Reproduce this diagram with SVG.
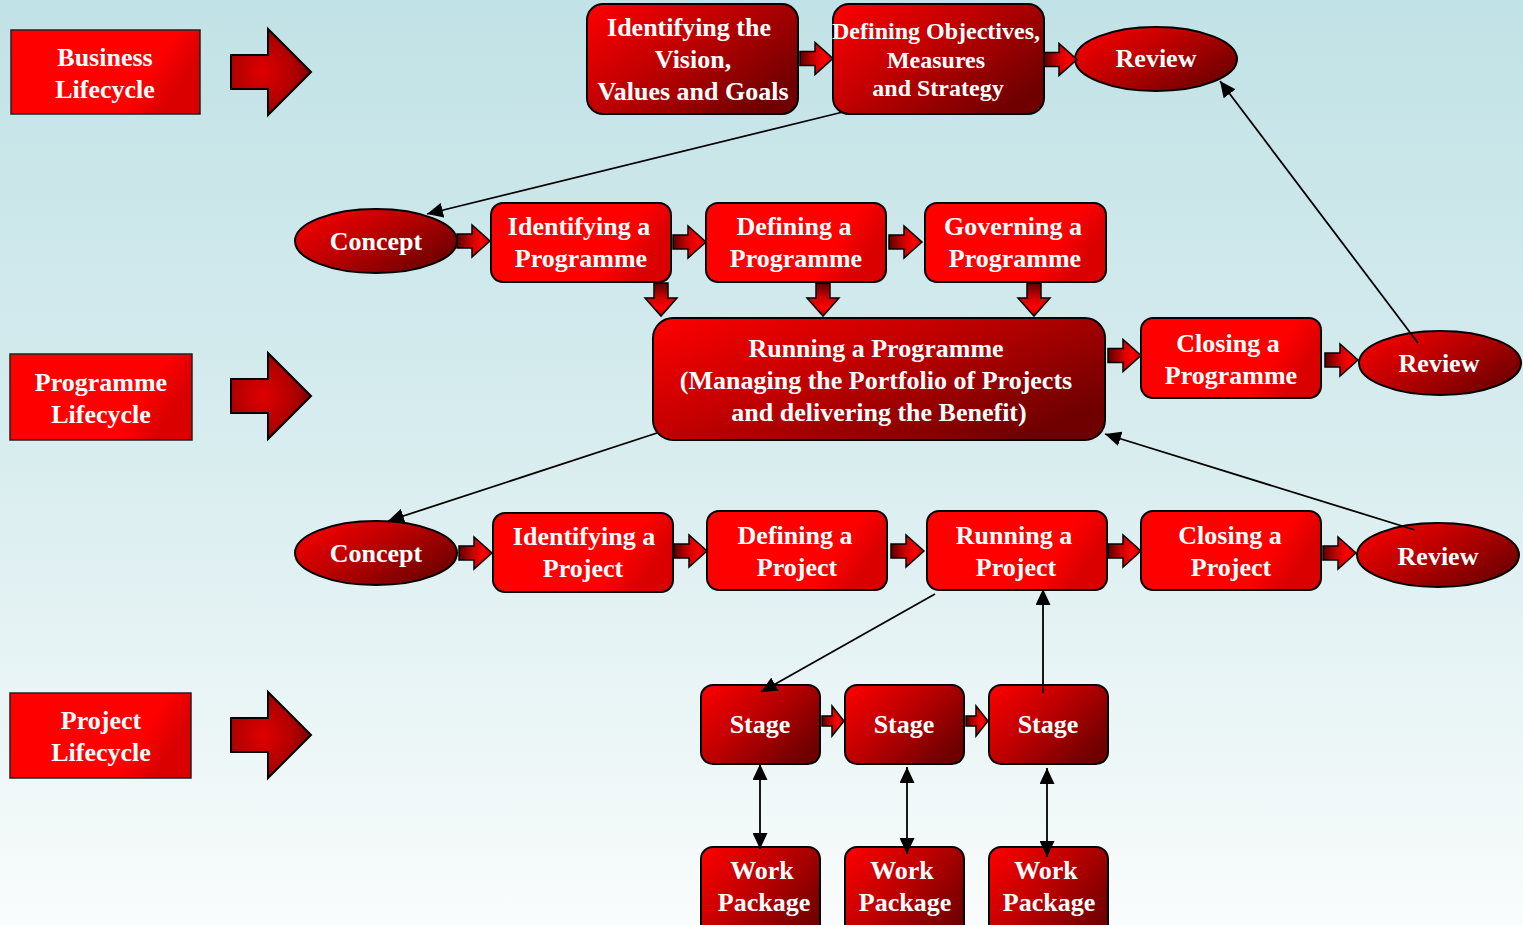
<svg xmlns="http://www.w3.org/2000/svg" xmlns:xlink="http://www.w3.org/1999/xlink" width="1523" height="925" viewBox="0 0 1523 925">
<defs>
  <linearGradient id="bg" x1="0" y1="0" x2="0" y2="1">
    <stop offset="0" stop-color="#C1E2E6"/>
    <stop offset="0.5" stop-color="#D9EDEF"/>
    <stop offset="1" stop-color="#F9FCFC"/>
  </linearGradient>
  <linearGradient id="gDark" x1="0" y1="0" x2="1" y2="0.7">
    <stop offset="0" stop-color="#FF0000"/>
    <stop offset="0.45" stop-color="#C40000"/>
    <stop offset="1" stop-color="#700000"/>
  </linearGradient>
  <linearGradient id="gRed" x1="0" y1="0" x2="1" y2="0.3">
    <stop offset="0" stop-color="#FF0000"/>
    <stop offset="0.8" stop-color="#FF0000"/>
    <stop offset="1" stop-color="#DA0000"/>
  </linearGradient>
  <radialGradient id="gBig" cx="0.4" cy="0.5" r="0.7">
    <stop offset="0" stop-color="#E00000"/>
    <stop offset="0.55" stop-color="#B00000"/>
    <stop offset="1" stop-color="#650000"/>
  </radialGradient>
  <linearGradient id="gSmall" x1="0" y1="0" x2="1" y2="0">
    <stop offset="0" stop-color="#5A0000"/>
    <stop offset="0.45" stop-color="#D00000"/>
    <stop offset="0.75" stop-color="#FF0000"/>
    <stop offset="1" stop-color="#C00000"/>
  </linearGradient>
  <path id="sa" d="M0,-7 H15 V-16 L33,0 L15,16 V7 H0 Z"/>
  <path id="sa2" d="M0,-5 H10 V-15 L22,0 L10,15 V5 H0 Z"/>
  <path id="ba" d="M0,26 H37 V0 L80,43 L37,86 V60 H0 Z"/>
  <marker id="ah" markerUnits="userSpaceOnUse" markerWidth="16" markerHeight="15" refX="16" refY="7.5" orient="auto-start-reverse" viewBox="0 0 16 15">
    <path d="M0,0 L16,7.5 L0,15 Z" fill="#000"/>
  </marker>
  <style>
    text { font-family: "Liberation Serif", "Times New Roman", serif; font-weight: bold; font-size: 26px; fill: #FFFFFF; text-anchor: middle; }
    .sm { font-size: 24px; }
    .dark { fill: url(#gDark); stroke: #000; stroke-width: 2; }
    .red { fill: url(#gRed); stroke: #000; stroke-width: 2; }
    .life { fill: url(#gRed); stroke: #222; stroke-width: 1.5; }
    .big { fill: url(#gBig); stroke: #000; stroke-width: 2; }
    .small { fill: url(#gSmall); stroke: #000; stroke-width: 1.5; }
    .conn { stroke: #000; stroke-width: 1.8; fill: none; }
  </style>
</defs>
<rect x="0" y="0" width="1523" height="925" fill="url(#bg)"/>

<!-- Lifecycle labels and big arrows -->
<g id="business-lifecycle">
  <rect class="life" x="11" y="30" width="189" height="84"/>
  <text x="105" y="66">Business</text>
  <text x="105" y="98">Lifecycle</text>
</g>
<g id="business-arrow"><use xlink:href="#ba" class="big" transform="translate(231,29)"/></g>
<g id="programme-lifecycle">
  <rect class="life" x="10" y="354" width="182" height="86"/>
  <text x="101" y="391">Programme</text>
  <text x="101" y="423">Lifecycle</text>
</g>
<g id="programme-arrow"><use xlink:href="#ba" class="big" transform="translate(231,353)"/></g>
<g id="project-lifecycle">
  <rect class="life" x="10" y="693" width="181" height="85"/>
  <text x="101" y="729">Project</text>
  <text x="101" y="761">Lifecycle</text>
</g>
<g id="project-arrow"><use xlink:href="#ba" class="big" transform="translate(231,692)"/></g>

<!-- Business row -->
<g id="vision">
  <rect class="dark" x="587" y="4" width="211" height="110" rx="16"/>
  <text x="689" y="36">Identifying the</text>
  <text x="693" y="68">Vision,</text>
  <text x="693" y="100">Values and Goals</text>
</g>
<g id="objectives">
  <rect class="dark" x="833" y="4" width="211" height="110" rx="16"/>
  <text class="sm" x="936" y="39">Defining Objectives,</text>
  <text class="sm" x="936" y="68">Measures</text>
  <text class="sm" x="938" y="96">and Strategy</text>
</g>
<g id="review-business">
  <ellipse class="dark" cx="1156" cy="59" rx="81" ry="32"/>
  <text x="1156" y="67">Review</text>
</g>

<!-- Programme rows -->
<g id="concept-programme">
  <ellipse class="dark" cx="376" cy="241" rx="81" ry="32"/>
  <text x="376" y="250">Concept</text>
</g>
<g id="identifying-programme">
  <rect class="red" x="491" y="203" width="180" height="79" rx="12"/>
  <text x="579" y="235">Identifying a</text>
  <text x="581" y="267">Programme</text>
</g>
<g id="defining-programme">
  <rect class="red" x="706" y="203" width="180" height="79" rx="12"/>
  <text x="794" y="235">Defining a</text>
  <text x="796" y="267">Programme</text>
</g>
<g id="governing-programme">
  <rect class="red" x="925" y="203" width="181" height="79" rx="12"/>
  <text x="1013" y="235">Governing a</text>
  <text x="1015" y="267">Programme</text>
</g>
<g id="running-programme">
  <rect class="dark" x="653" y="318" width="452" height="122" rx="20"/>
  <text x="876" y="357">Running a Programme</text>
  <text x="876" y="389">(Managing the Portfolio of Projects</text>
  <text x="879" y="421">and delivering the Benefit)</text>
</g>
<g id="closing-programme">
  <rect class="red" x="1141" y="318" width="180" height="80" rx="12"/>
  <text x="1228" y="352">Closing a</text>
  <text x="1231" y="384">Programme</text>
</g>
<g id="review-programme">
  <ellipse class="dark" cx="1440" cy="363" rx="81" ry="32"/>
  <text x="1439" y="372">Review</text>
</g>

<!-- Project row -->
<g id="concept-project">
  <ellipse class="dark" cx="376" cy="553" rx="81" ry="32"/>
  <text x="376" y="562">Concept</text>
</g>
<g id="identifying-project">
  <rect class="red" x="493" y="513" width="180" height="79" rx="12"/>
  <text x="584" y="545">Identifying a</text>
  <text x="583" y="577">Project</text>
</g>
<g id="defining-project">
  <rect class="red" x="707" y="511" width="180" height="79" rx="12"/>
  <text x="795" y="544">Defining a</text>
  <text x="797" y="576">Project</text>
</g>
<g id="running-project">
  <rect class="red" x="927" y="511" width="180" height="79" rx="12"/>
  <text x="1014" y="544">Running a</text>
  <text x="1016" y="576">Project</text>
</g>
<g id="closing-project">
  <rect class="red" x="1141" y="511" width="180" height="79" rx="12"/>
  <text x="1230" y="544">Closing a</text>
  <text x="1231" y="576">Project</text>
</g>
<g id="review-project">
  <ellipse class="dark" cx="1438" cy="555" rx="81" ry="32"/>
  <text x="1438" y="565">Review</text>
</g>

<!-- Stages and work packages -->
<g id="stage1">
  <rect class="dark" x="701" y="685" width="119" height="79" rx="12"/>
  <text x="760" y="733">Stage</text>
</g>
<g id="stage2">
  <rect class="dark" x="845" y="685" width="119" height="79" rx="12"/>
  <text x="904" y="733">Stage</text>
</g>
<g id="stage3">
  <rect class="dark" x="989" y="685" width="119" height="79" rx="12"/>
  <text x="1048" y="733">Stage</text>
</g>
<g id="wp1">
  <rect class="dark" x="701" y="847" width="119" height="100" rx="12"/>
  <text x="762" y="879">Work</text>
  <text x="764" y="911">Package</text>
</g>
<g id="wp2">
  <rect class="dark" x="845" y="847" width="119" height="100" rx="12"/>
  <text x="902" y="879">Work</text>
  <text x="905" y="911">Package</text>
</g>
<g id="wp3">
  <rect class="dark" x="989" y="847" width="119" height="100" rx="12"/>
  <text x="1046" y="879">Work</text>
  <text x="1049" y="911">Package</text>
</g>

<!-- Connectors -->
<g id="connectors">
  <use xlink:href="#sa" class="small" transform="translate(800,58.5)"/>
  <use xlink:href="#sa" class="small" transform="translate(1044,59.5)"/>
  <use xlink:href="#sa" class="small" transform="translate(457,241)"/>
  <use xlink:href="#sa" class="small" transform="translate(673,242)"/>
  <use xlink:href="#sa" class="small" transform="translate(889,242)"/>
  <use xlink:href="#sa" class="small" transform="translate(661,283) rotate(90)"/>
  <use xlink:href="#sa" class="small" transform="translate(823,283) rotate(90)"/>
  <use xlink:href="#sa" class="small" transform="translate(1034,283) rotate(90)"/>
  <use xlink:href="#sa" class="small" transform="translate(1108,355.5)"/>
  <use xlink:href="#sa" class="small" transform="translate(1325,360)"/>
  <use xlink:href="#sa" class="small" transform="translate(459,553)"/>
  <use xlink:href="#sa" class="small" transform="translate(674,551)"/>
  <use xlink:href="#sa" class="small" transform="translate(891,551)"/>
  <use xlink:href="#sa" class="small" transform="translate(1108,551)"/>
  <use xlink:href="#sa" class="small" transform="translate(1323,553)"/>
  <use xlink:href="#sa2" class="small" transform="translate(822,721)"/>
  <use xlink:href="#sa2" class="small" transform="translate(966,721)"/>

  <line class="conn" x1="843" y1="112" x2="427" y2="214" marker-end="url(#ah)"/>
  <line class="conn" x1="1418" y1="343" x2="1220" y2="81" marker-end="url(#ah)"/>
  <line class="conn" x1="657" y1="433" x2="388" y2="521" marker-end="url(#ah)"/>
  <line class="conn" x1="1415" y1="530" x2="1105" y2="434" marker-end="url(#ah)"/>
  <line class="conn" x1="935" y1="594" x2="761" y2="692" marker-end="url(#ah)"/>
  <line class="conn" x1="1043" y1="693" x2="1043" y2="589" marker-end="url(#ah)"/>
  <line class="conn" x1="760" y1="764" x2="760" y2="849" marker-start="url(#ah)" marker-end="url(#ah)"/>
  <line class="conn" x1="907" y1="767" x2="907" y2="854" marker-start="url(#ah)" marker-end="url(#ah)"/>
  <line class="conn" x1="1047" y1="768" x2="1047" y2="857" marker-start="url(#ah)" marker-end="url(#ah)"/>
</g>
</svg>
